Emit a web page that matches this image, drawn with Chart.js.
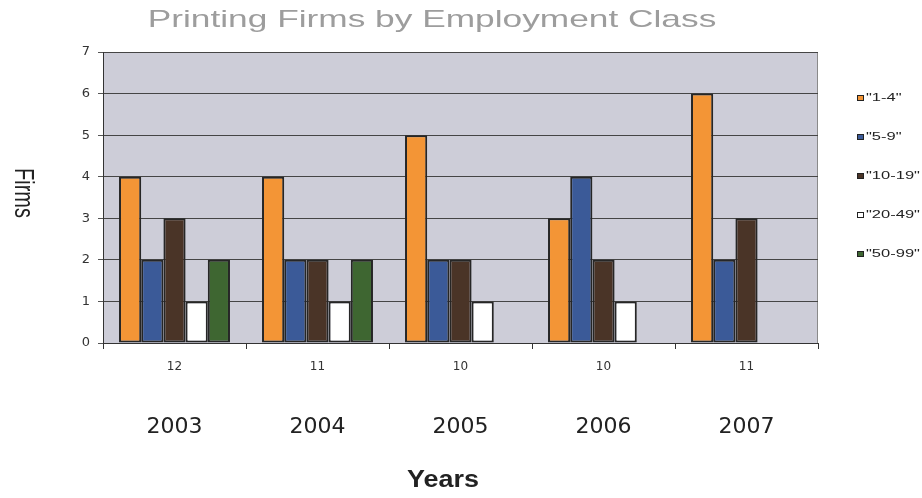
<!DOCTYPE html>
<html>
<head>
<meta charset="utf-8">
<title>Printing Firms by Employment Class</title>
<script src="https://cdn.jsdelivr.net/npm/chart.js@4.4.0/dist/chart.umd.min.js"></script>
<style>
  html, body { margin: 0; padding: 0; background: #fff; }
</style>
</head>
<body>
<canvas id="firmsChart" width="922" height="498"></canvas>
<script>
// Firms per employment class, by year
const years = ['2003', '2004', '2005', '2006', '2007'];
const totals = ['12', '11', '10', '10', '11'];
const classNames = ['"1-4"', '"5-9"', '"10-19"', '"20-49"', '"50-99"'];
const firms1to4 = [4, 4, 5, 3, 6];
const firms5to9 = [2, 2, 2, 4, 2];
const firms10to19 = [3, 2, 2, 2, 3];
const firms20to49 = [1, 1, 1, 1, 0];
const firms50to99 = [2, 2, 0, 0, 0];
const classColors = ['#f39536', '#3b5a98', '#4a3427', '#ffffff', '#3e6631'];

const seriesValues = [firms1to4, firms5to9, firms10to19, firms20to49, firms50to99];

const datasets = seriesValues.map(function (values, i) {
    return {
        label: classNames[i],
        data: values,
        backgroundColor: classColors[i],
        borderColor: '#262626',
        borderWidth: 2,
        borderSkipped: false,
        categoryPercentage: 0.776,
        barPercentage: 1.0
    };
});

// grey plot background, like the old spreadsheet charts
const plotBackground = {
    id: 'plotBackground',
    beforeDraw: function (chart) {
        const a = chart.chartArea;
        const ctx = chart.ctx;
        ctx.save();
        ctx.fillStyle = '#cdcdd8';
        ctx.fillRect(a.left, a.top, a.right - a.left, a.bottom - a.top);
        ctx.strokeStyle = '#8a8a8a';
        ctx.lineWidth = 1;
        ctx.strokeRect(a.left + 0.5, a.top + 0.5, a.right - a.left - 1, a.bottom - a.top);
        ctx.restore();
    }
};

// title, axis captions and the legend are drawn by hand (stretched text)
function stretchedText(ctx, text, x, y, sx, sy, angle) {
    ctx.save();
    ctx.translate(x, y);
    if (angle) ctx.rotate(angle);
    ctx.scale(sx, sy);
    ctx.fillText(text, 0, 0);
    ctx.restore();
}

const captions = {
    id: 'captions',
    afterDraw: function (chart) {
        const ctx = chart.ctx;
        ctx.save();
        ctx.textAlign = 'center';
        ctx.textBaseline = 'middle';

        ctx.fillStyle = '#9d9d9d';
        ctx.font = '24px "Liberation Sans", Arial, sans-serif';
        stretchedText(ctx, 'Printing Firms by Employment Class', 432, 20, 1.47, 1);

        ctx.fillStyle = '#222';
        ctx.font = '20px "Liberation Sans", Arial, sans-serif';
        stretchedText(ctx, 'Firms', 23, 193, 1, 1.4, Math.PI / 2);

        ctx.font = 'bold 23px "Liberation Sans", Arial, sans-serif';
        stretchedText(ctx, 'Years', 443, 481, 1.17, 1);

        // legend
        ctx.textAlign = 'left';
        ctx.font = '11px "Liberation Sans", Arial, sans-serif';
        chart.data.datasets.forEach(function (ds, i) {
            const y = 98 + i * 39;
            ctx.fillStyle = ds.backgroundColor;
            ctx.fillRect(857, y - 3, 7, 6);
            ctx.strokeStyle = '#222';
            ctx.lineWidth = 1;
            ctx.strokeRect(857.5, y - 2.5, 6, 5);
            ctx.fillStyle = '#222';
            stretchedText(ctx, ds.label, 866, y, 1.5, 1);
        });
        ctx.restore();
    }
};

const config = {
    type: 'bar',
    data: {
        labels: years,
        datasets: datasets
    },
    options: {
        responsive: false,
        animation: false,
        devicePixelRatio: 1,
        layout: {
            padding: { top: 52, right: 104, bottom: 65, left: 0 }
        },
        plugins: {
            legend: { display: false },
            title: { display: false },
            tooltip: { enabled: false }
        },
        scales: {
            x: {
                type: 'category',
                position: 'bottom',
                labels: totals,
                weight: 0,
                grid: {
                    display: true,
                    drawOnChartArea: false,
                    drawTicks: true,
                    tickLength: 6,
                    offset: true,
                    color: '#333'
                },
                border: { display: true, color: '#333' },
                ticks: {
                    color: '#333',
                    font: { family: '"DejaVu Sans"', size: 12 },
                    padding: 11,
                    maxRotation: 0
                },
                afterFit: function (scale) { scale.height = 30; }
            },
            xYears: {
                type: 'category',
                position: 'bottom',
                labels: years,
                offset: true,
                weight: 1,
                grid: { display: false, drawTicks: false },
                border: { display: false },
                ticks: {
                    color: '#222',
                    font: { family: '"DejaVu Sans"', size: 22 },
                    padding: 41,
                    maxRotation: 0
                },
                afterFit: function (scale) { scale.height = 60; }
            },
            y: {
                min: 0,
                max: 7,
                ticks: {
                    stepSize: 1,
                    color: '#333',
                    font: { family: '"DejaVu Sans"', size: 13 },
                    padding: 8
                },
                grid: {
                    color: '#454545',
                    tickColor: '#555',
                    tickLength: 5
                },
                border: { display: true, color: '#333' },
                afterFit: function (scale) { scale.width = 103; }
            }
        }
    },
    plugins: [plotBackground, captions]
};

const ctx = document.getElementById('firmsChart').getContext('2d');
new Chart(ctx, config);
</script>
</body>
</html>
